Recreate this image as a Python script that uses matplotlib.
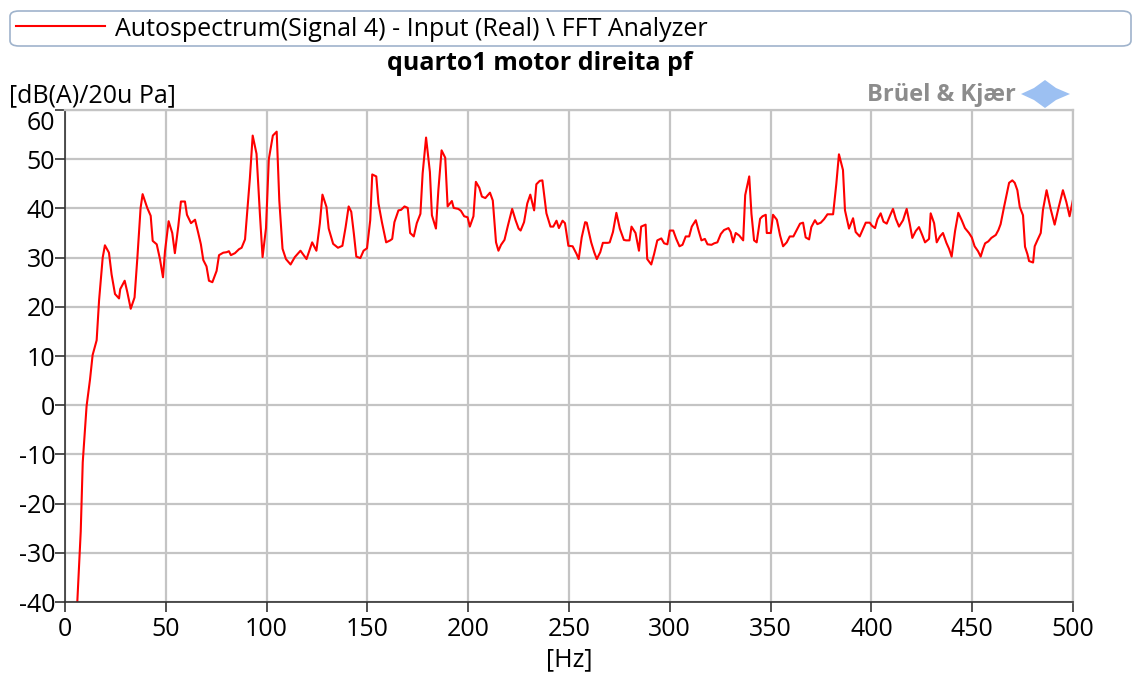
# coding: UTF-8

import numpy as np
import matplotlib
matplotlib.use("Agg")
import matplotlib.pyplot as plt
from matplotlib.patches import FancyBboxPatch, Polygon
from matplotlib.lines import Line2D
import matplotlib.transforms as mtransforms

# values
freq_hz = [6.1, 7.8, 8.8, 10.7, 12.4, 13.7, 15.7, 16.9, 18.7, 19.8, 21.8, 23.1, 24.8, 26.8, 27.4,
           29.6, 30.9, 32.6, 34.5, 35.9, 37.5, 38.5, 40.8, 42.5, 43.5, 45.5, 47.1, 48.6, 49.6, 51.4,
           53.2, 54.5, 56.2, 57.5, 59.5, 60.5, 62.5, 64.5, 66.1, 67.4, 68.6, 70.2, 71.4, 73.1, 75.2,
           76.4, 78.5, 80.2, 81.3, 82.3, 84.3, 86.3, 87.6, 89.3, 90.4, 91.7, 93.1, 95.0, 96.7, 98.0,
           99.7, 101.1, 103.1, 105.0, 106.3, 107.9, 109.6, 111.9, 114.0, 116.8, 119.8, 122.6, 124.7,
           126.4, 127.7, 129.7, 130.8, 133.0, 135.4, 137.6, 139.2, 140.7, 142.0, 143.3, 144.5, 146.5,
           148.1, 149.8, 151.4, 152.4, 154.4, 155.5, 157.2, 159.3, 161.3, 162.3, 163.4, 165.4, 166.7,
           168.4, 170.0, 171.2, 173.0, 174.5, 176.3, 177.4, 179.1, 181.0, 182.0, 184.0, 185.2, 186.8,
           188.6, 189.8, 191.9, 192.8, 195.1, 196.4, 198.0, 199.7, 200.8, 202.6, 203.8, 205.5, 206.8,
           208.5, 210.8, 212.2, 213.8, 215.0, 216.3, 218.0, 219.7, 221.8, 223.5, 225.0, 226.0, 227.7,
           229.3, 230.8, 232.7, 233.8, 235.5, 236.8, 238.8, 240.8, 242.2, 243.8, 245.0, 246.8, 248.0,
           249.7, 251.8, 253.8, 254.8, 256.3, 258.0, 258.8, 261.0, 262.5, 263.8, 265.5, 266.8, 269.3,
           270.2, 271.8, 273.5, 275.2, 277.2, 278.3, 280.0, 281.0, 283.0, 284.7, 285.8, 288.0, 288.8,
           290.8, 292.2, 293.8, 295.8, 297.2, 298.8, 300.0, 301.7, 303.2, 304.8, 306.3, 307.9, 309.6,
           310.9, 312.9, 314.2, 315.7, 317.4, 318.7, 320.7, 322.0, 323.6, 325.3, 326.9, 329.1, 330.2,
           331.4, 332.7, 334.4, 336.4, 337.4, 339.4, 340.5, 341.8, 343.1, 344.8, 346.0, 347.6, 348.1,
           350.1, 351.2, 353.1, 354.7, 356.2, 358.0, 359.5, 361.3, 363.3, 364.6, 366.1, 367.4, 369.1,
           370.2, 372.0, 373.2, 374.9, 376.5, 378.2, 379.8, 381.0, 382.6, 383.9, 385.9, 386.9, 388.9,
           390.9, 392.2, 394.2, 395.5, 397.2, 399.2, 400.2, 401.8, 403.0, 404.6, 406.0, 407.6, 409.3,
           410.7, 412.1, 413.7, 415.7, 417.5, 419.0, 420.3, 422.0, 423.6, 425.3, 426.6, 428.6, 429.4,
           431.1, 432.4, 434.0, 435.5, 437.2, 438.5, 439.8, 441.5, 443.1, 444.8, 446.4, 448.4, 449.8,
           451.2, 452.9, 454.2, 455.4, 456.4, 458.0, 459.5, 461.7, 463.0, 464.1, 465.8, 468.3, 469.9,
           471.1, 472.4, 473.6, 475.2, 476.2, 477.4, 478.2, 480.2, 481.0, 482.3, 484.0, 485.1, 486.9,
           488.9, 490.9, 492.7, 495.0, 496.7, 498.3, 500.0]
level_db = [-40, -25.7, -11.6, -0.2, 5.2, 10.2, 13.2, 21.3, 30, 32.5, 31, 26.6, 22.6, 21.7, 23.6,
            25.3, 23, 19.6, 21.9, 30, 40.1, 42.9, 40.1, 38.5, 33.4, 32.7, 29.7, 26, 31.3, 37.4,
            35, 30.9, 36.4, 41.4, 41.4, 38.7, 37, 37.7, 35, 32.7, 29.5, 28.2, 25.3, 25, 27.3,
            30.5, 31, 31.1, 31.3, 30.5, 30.9, 31.7, 32, 33.7, 39.4, 46.1, 54.8, 51.1, 38.7, 30.1,
            36, 50, 54.8, 55.6, 41.6, 31.8, 29.7, 28.6, 30.1, 31.4, 29.7, 33.1, 31.4,
            36.9, 42.8, 40.3, 35.9, 32.8, 32, 32.4, 36.2, 40.4, 39.3, 34.8, 30.2, 29.9,
            31.4, 31.9, 37.6, 46.9, 46.5, 41, 37.2, 33.1, 33.5, 33.8, 37.2, 39.6, 39.7,
            40.4, 40.1, 35, 34.3, 37, 38.9, 47.1, 54.4, 47.4, 38.6, 35.9, 43.7, 51.8,
            50.3, 40.4, 41.5, 40.1, 39.9, 39.5, 38.4, 38.2, 36.3, 38.4, 45.4, 44.2, 42.4,
            42.1, 43.2, 41.6, 33.1, 31.4, 32.6, 33.6, 36.5, 39.9, 37.6, 35.9, 35.5, 37.2,
            41, 42.8, 39.6, 44.9, 45.6, 45.7, 39, 36.3, 36.3, 37.5, 36, 37.5, 37,
            32.4, 32.3, 30.7, 29.7, 34.1, 37.2, 37.1, 33.1, 31.1, 29.7, 31.1, 33, 33,
            33.1, 35.2, 39.1, 35.9, 33.6, 33.5, 33.5, 36.3, 35, 31.4, 36.3, 36.7, 29.7,
            28.6, 30.7, 33.5, 33.9, 32.9, 32.7, 35.5, 35.5, 33.8, 32.3, 32.6, 34.3, 34.3,
            36.3, 37.6, 35.6, 33.5, 33.8, 32.7, 32.6, 32.9, 33.1, 34.8, 35.6, 36, 35.2,
            33.1, 35, 34.5, 33.5, 42.7, 46.5, 38.9, 33.5, 33.1, 37.9, 38.4, 38.7, 35,
            35, 38.7, 37.7, 34.5, 32.3, 33.1, 34.3, 34.3, 35.9, 36.9, 37.1, 34.1, 33.7,
            36.2, 37.6, 36.8, 37.1, 37.8, 38.8, 38.8, 38.8, 45, 51, 47.8, 39.6, 35.9,
            38, 35.2, 34.3, 35.5, 37.1, 37.1, 36.5, 36, 37.8, 39, 37.3, 36.9, 38.6,
            39.9, 37.9, 36.3, 37.6, 39.9, 36.9, 34, 35.4, 36.2, 34.5, 33.1, 33.8, 39,
            37, 33.1, 34.3, 35, 33, 31.8, 30.2, 35.4, 39.1, 37.6, 36, 35, 34.1,
            32.3, 31.3, 30.2, 31.8, 32.9, 33.3, 34, 34.6, 35.6, 36.8, 40.3, 45.2, 45.7,
            45.2, 43.7, 40.3, 38.6, 32.2, 30.7, 29.3, 29, 32.3, 33.5, 35, 39.7, 43.7,
            39.9, 36.7, 39.9, 43.7, 41.3, 38.4, 41.8]

x_ticks = [0, 50, 100, 150, 200, 250, 300, 350, 400, 450, 500]
y_ticks = [-40, -30, -20, -10, 0, 10, 20, 30, 40, 50, 60]

W, H = 1136, 675
def fx(px):
    return px / W
def fy(py):
    return 1 - py / H

plt.rcParams['font.family'] = ['Open Sans', 'DejaVu Sans']
plt.rcParams['axes.unicode_minus'] = False

fig = plt.figure(figsize=(11.36, 6.75), dpi=100)
ax = fig.add_axes([fx(65), fy(602), fx(1073) - fx(65), fy(110) - fy(602)])

ax.plot(freq_hz, level_db, color='#ff0000', lw=1.5, clip_on=True)

ax.set_xlim(0, 500)
ax.set_ylim(-40, 60)
ax.set_xticks(x_ticks)
ax.set_yticks(y_ticks)
ax.grid(True, color='#c4c4c4', lw=1.6)
ax.set_axisbelow(True)
for s in ['top', 'right']:
    ax.spines[s].set_color('#c4c4c4')
    ax.spines[s].set_linewidth(1.6)
for s in ['left', 'bottom']:
    ax.spines[s].set_color('#333333')
    ax.spines[s].set_linewidth(1.2)
ax.tick_params(axis='both', labelsize=18, color='#333333', width=1.2)
ax.tick_params(axis='x', length=7, pad=4)
ax.tick_params(axis='y', length=7, pad=0)
# [Hz] placed at a fixed spot under the axis
ax.set_xlabel('[Hz]', fontsize=18)
ax.xaxis.set_label_coords(0.5, (602 - 660) / (602 - 110), transform=ax.transAxes)
ax.xaxis.label.set_va('center')

# the top "60" sits a bit lower in the reference
top_lbl = ax.get_yticklabels()[-1]
top_lbl.set_transform(top_lbl.get_transform() +
                      mtransforms.ScaledTranslation(0, -10 / 100, fig.dpi_scale_trans))

# legend-like header box
box = FancyBboxPatch((fx(10), fy(46)), fx(1131) - fx(10), fy(11) - fy(46),
                     boxstyle='round,pad=0,rounding_size=0.008', transform=fig.transFigure,
                     facecolor='white', edgecolor='#9fb3cc', lw=1.2)
fig.patches.append(box)
fig.lines.append(Line2D([fx(16), fx(105)], [fy(26), fy(26)], transform=fig.transFigure,
                        color='#ff0000', lw=1.5))
fig.text(fx(115), fy(29), 'Autospectrum(Signal 4) - Input (Real) \\ FFT Analyzer',
         fontsize=18, va='center', ha='left')

fig.text(fx(540), fy(64), 'quarto1 motor direita pf', fontsize=18, fontweight='bold',
         ha='center', va='center')
fig.text(fx(9), fy(96), '[dB(A)/20u Pa]', fontsize=18, ha='left', va='center')

# Bruel & Kjaer logo
fig.text(fx(1016), fy(95), 'Brüel & Kjær', fontsize=17, fontweight='bold', color='#8c8c8c',
         ha='right', va='center')
logo = Polygon([[fx(1021), fy(94)], [fx(1034), fy(88)], [fx(1045), fy(80)], [fx(1056), fy(88)],
                [fx(1070), fy(94)], [fx(1056), fy(100)], [fx(1045), fy(108)], [fx(1034), fy(100)]],
               closed=True, transform=fig.transFigure, facecolor='#9cc0f2', edgecolor='none')
fig.patches.append(logo)

fig.savefig('out.png', dpi=100)
